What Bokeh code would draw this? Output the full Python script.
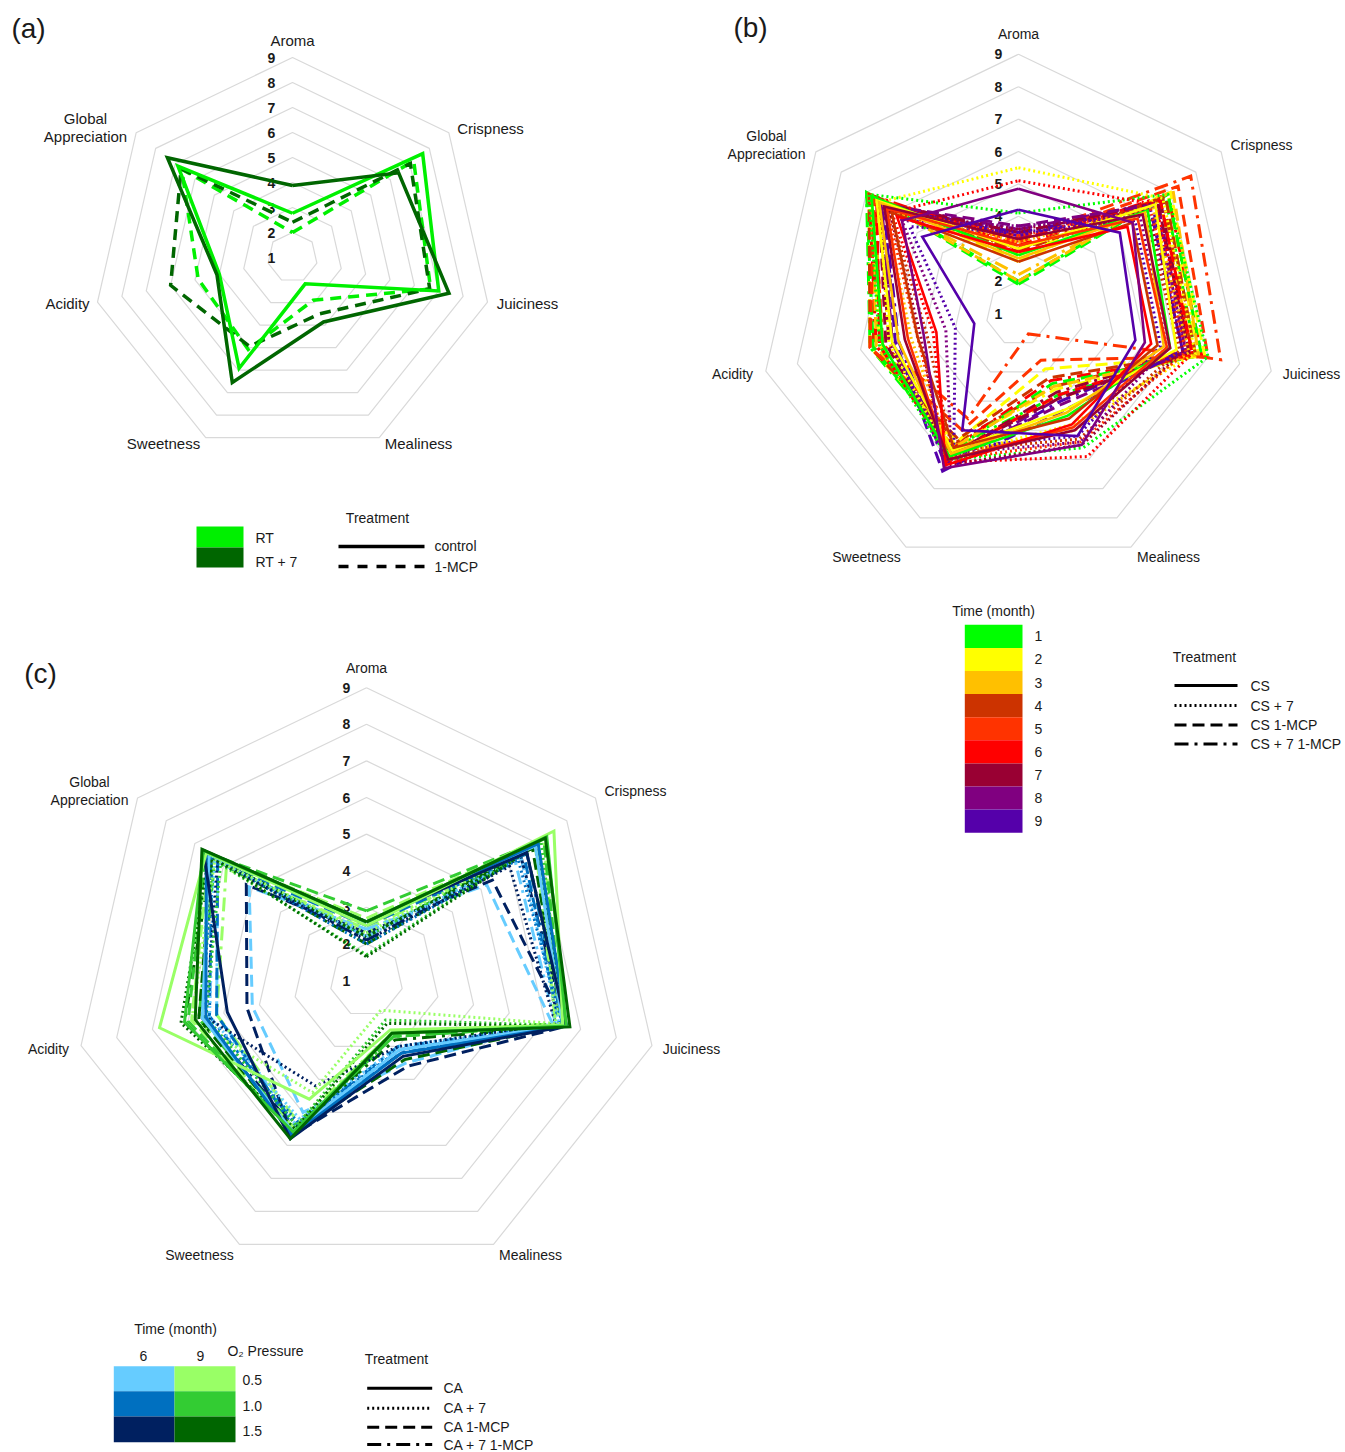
import numpy as np
from bokeh.plotting import figure
from bokeh.models import Range1d
from bokeh.embed import file_html
from bokeh.resources import INLINE
from bokeh.core.properties import value

# ---------------- DATA ----------------
attributes = ["Aroma", "Crispness", "Juiciness", "Mealiness", "Sweetness", "Acidity", "Global Appreciation"]
scale_ticks = [1, 2, 3, 4, 5, 6, 7, 8, 9]

# Panel (a): rows = RT, RT + 7
a_groups = ["RT", "RT + 7"]
a_control = [[2.77, 7.66, 7.0, 2.17, 5.92, 4.0, 6.86],
             [3.88, 6.43, 7.42, 3.86, 6.55, 4.1, 7.4]]
a_mcp = [[2.0, 7.2, 6.67, 2.9, 5.08, 4.87, 6.67],
         [2.41, 7.03, 6.63, 3.5, 4.95, 6.0, 6.7]]

# Panel (b): rows = month 1..9
b_months = ["1", "2", "3", "4", "5", "6", "7", "8", "9"]
b_cs = [[2.8, 6.1, 5.8, 4.5, 5.9, 5.3, 6.8],
        [3.0, 6.4, 6.0, 4.3, 5.7, 5.0, 6.6],
        [2.7, 6.0, 5.6, 4.4, 5.8, 4.8, 6.5],
        [2.6, 5.5, 5.4, 4.6, 5.6, 4.2, 6.0],
        [3.1, 5.7, 5.7, 4.9, 6.0, 4.5, 6.2],
        [2.9, 5.3, 5.2, 4.8, 6.2, 3.6, 5.8],
        [3.3, 5.9, 5.8, 5.0, 6.0, 4.6, 6.3],
        [4.85, 5.5, 5.0, 5.5, 6.3, 4.0, 5.6],
        [4.2, 5.0, 4.7, 5.2, 5.0, 2.4, 4.8]]
b_cs7 = [[4.1, 6.9, 7.0, 5.6, 6.0, 5.4, 6.9],
         [5.5, 6.7, 6.6, 4.8, 5.9, 5.1, 6.5],
         [3.2, 6.3, 6.4, 5.0, 5.8, 4.4, 6.3],
         [3.0, 6.0, 6.1, 5.3, 5.7, 3.9, 6.1],
         [3.4, 6.2, 6.3, 5.4, 6.0, 4.2, 6.2],
         [5.1, 6.4, 6.5, 5.9, 6.1, 3.7, 6.0],
         [3.6, 6.1, 6.2, 5.5, 6.2, 4.1, 6.1],
         [3.7, 5.8, 5.7, 5.4, 5.8, 3.3, 5.6],
         [3.5, 5.6, 5.5, 5.2, 5.6, 3.0, 5.3]]
b_cs_mcp = [[1.9, 6.9, 6.8, 3.4, 5.7, 5.6, 7.0],
            [2.6, 7.0, 6.9, 2.9, 5.4, 5.7, 6.9],
            [2.0, 7.1, 6.7, 3.5, 5.6, 5.5, 6.8],
            [2.9, 6.8, 6.6, 3.2, 5.3, 5.7, 6.9],
            [3.2, 7.3, 7.0, 2.6, 5.0, 5.7, 6.7],
            [3.3, 6.6, 6.5, 3.8, 5.9, 5.4, 6.6],
            [3.5, 6.5, 6.4, 3.9, 5.8, 5.2, 6.5],
            [3.7, 6.4, 6.3, 4.1, 6.0, 5.0, 6.4],
            [3.4, 6.2, 6.2, 4.3, 6.4, 4.9, 6.3]]
b_cs7_mcp = [[2.0, 6.8, 6.6, 3.8, 5.6, 5.7, 7.0],
             [2.8, 6.9, 6.7, 3.6, 5.5, 5.4, 6.8],
             [2.2, 6.6, 6.5, 3.9, 5.7, 5.3, 6.7],
             [3.0, 6.7, 6.5, 3.5, 5.4, 5.6, 6.6],
             [3.3, 7.8, 7.4, 1.7, 4.6, 5.3, 6.7],
             [3.1, 6.9, 6.8, 3.3, 5.6, 5.5, 6.9],
             [3.4, 6.6, 6.4, 3.7, 5.9, 5.1, 6.5],
             [3.6, 6.5, 6.3, 3.9, 6.1, 5.0, 6.4],
             [3.5, 6.3, 6.2, 4.0, 6.2, 4.8, 6.3]]

# Panel (c): rows = 6 months O2 0.5, 1.0, 1.5 ; 9 months O2 0.5, 1.0, 1.5
c_groups = ["6 / 0.5", "6 / 1.0", "6 / 1.5", "9 / 0.5", "9 / 1.0", "9 / 1.5"]
c_ca = [[2.6, 6.9, 6.5, 3.1, 5.6, 5.6, 6.5],
        [2.6, 7.0, 6.6, 3.2, 5.7, 5.5, 6.6],
        [2.6, 6.6, 6.6, 3.3, 5.8, 4.9, 6.7],
        [2.5, 7.55, 6.5, 2.5, 4.6, 6.8, 6.6],
        [2.6, 7.3, 6.6, 2.6, 5.6, 6.1, 6.7],
        [2.6, 7.25, 6.7, 2.6, 5.8, 5.8, 6.75]]
c_ca7 = [[2.2, 6.4, 6.4, 3.0, 5.2, 5.4, 6.3],
         [2.0, 6.3, 6.5, 3.1, 5.3, 5.6, 6.4],
         [2.1, 6.0, 6.3, 3.0, 4.2, 5.5, 6.2],
         [2.3, 7.0, 6.3, 1.9, 4.4, 5.9, 6.3],
         [1.7, 7.1, 6.5, 2.2, 5.4, 5.5, 6.1],
         [1.65, 6.9, 6.6, 2.3, 5.5, 6.2, 6.5]]
c_ca_mcp = [[2.4, 5.2, 6.2, 3.5, 5.0, 4.2, 5.1],
            [2.5, 6.5, 6.4, 3.2, 5.5, 5.2, 6.2],
            [2.3, 5.4, 6.6, 3.6, 5.7, 4.35, 5.2],
            [2.7, 7.2, 6.4, 2.6, 5.5, 5.9, 6.5],
            [2.9, 7.2, 6.5, 2.7, 5.6, 6.0, 6.6],
            [2.2, 6.8, 6.5, 3.4, 5.6, 5.7, 6.4]]
c_ca7_mcp = [[2.3, 6.2, 6.3, 3.1, 5.4, 5.2, 6.2],
             [2.2, 6.6, 6.5, 3.0, 5.4, 5.4, 6.4],
             [2.1, 6.4, 6.6, 3.2, 5.5, 5.6, 6.5],
             [2.4, 6.9, 6.3, 2.6, 5.3, 5.2, 5.9],
             [2.2, 7.0, 6.5, 2.7, 5.5, 5.7, 6.3],
             [2.0, 6.6, 6.6, 2.8, 5.6, 6.1, 6.4]]

# ---------------- STYLE ----------------
a_colors = ["#00F000", "#006600"]
b_colors = ["#00FF00", "#FFFF00", "#FFC000", "#CC3300", "#FF3300", "#FF0000", "#990033", "#800080", "#5500AA"]
c_colors = ["#66CCFF", "#0070C0", "#002060", "#99FF66", "#33CC33", "#006600"]
FONT = value("Liberation Sans")
TXT = "#1a1a1a"
RING = "#D9D9D9"

p = figure(width=1345, height=1452, x_range=Range1d(0, 1345), y_range=Range1d(1452, 0),
           output_backend="svg", toolbar_location=None, min_border=0)
p.axis.visible = False
p.grid.visible = False
p.outline_line_color = None
p.background_fill_color = "white"


def radar_xy(vals, cx, cy, unit):
    xs, ys = [], []
    n = len(vals)
    for k in range(n + 1):
        i = k % n
        th = np.pi / 2 - 2 * np.pi * i / n
        r = (vals[i] - scale_ticks[0]) * unit
        xs.append(cx + r * np.cos(th))
        ys.append(cy - r * np.sin(th))
    return xs, ys


def text(x, y, s, size, bold=False, align="center", color=TXT):
    p.text(x=[x], y=[y], text=[s], text_font=FONT, text_font_size=f"{size}px",
           text_align=align, text_baseline="middle", text_color=color,
           text_font_style="bold" if bold else "normal")


def panel(cx, cy, unit, label_pos, fsize, tick_dx):
    n = len(attributes)
    for t in scale_ticks[1:]:
        xs, ys = radar_xy([t] * n, cx, cy, unit)
        p.line(xs, ys, line_color=RING, line_width=1.2)
    for t in scale_ticks:
        text(cx + tick_dx, cy - (t - scale_ticks[0]) * unit, str(t), 14, bold=True)
    for name, (lx, ly) in zip(attributes, label_pos):
        if name == "Global Appreciation":
            text(lx, ly - 9, "Global", fsize)
            text(lx, ly + 9, "Appreciation", fsize)
        else:
            text(lx, ly, name, fsize)


def series(rows, colors, cx, cy, unit, dash, lw):
    for vals, col in zip(rows, colors):
        xs, ys = radar_xy(vals, cx, cy, unit)
        p.line(xs, ys, line_color=col, line_width=lw, line_dash=dash, line_join="miter")


# ---------- Panel (a) ----------
A = (292, 257, 25.0)
panel(*A, [(292, 40), (490, 128), (527, 303), (418, 443), (163, 443), (67, 303), (85, 127)], 15, -21)
series(a_mcp, a_colors, *A, "11 7", 3.5)
series(a_control, a_colors, *A, "solid", 3.5)
text(28, 28, "(a)", 28)

# legend (a)
p.quad(left=[196, 196], right=[243, 243], top=[526, 547], bottom=[547, 567], fill_color=a_colors, line_color=None)
text(255, 537, "RT", 14, align="left")
text(255, 561, "RT + 7", 14, align="left")
text(377, 517, "Treatment", 14)
p.line([338, 424], [546, 546], line_color="black", line_width=3.5)
p.line([338, 424], [566, 566], line_color="black", line_width=3.5, line_dash="10 9")
text(434, 545, "control", 14, align="left")
text(434, 566, "1-MCP", 14, align="left")

# ---------- Panel (b) ----------
B = (1018, 313, 32.4)
panel(*B, [(1018, 33), (1261, 144), (1311, 373), (1168, 556), (866, 556), (732, 373), (766, 144)], 14, -20)
series(b_cs7_mcp, b_colors, *B, "14 6 3 6", 3)
series(b_cs_mcp, b_colors, *B, "12 6", 3)
series(b_cs7, b_colors, *B, "2 3", 3)
series(b_cs, b_colors, *B, "solid", 2.6)
text(750, 27, "(b)", 28)

# legend (b)
text(993, 610, "Time (month)", 14)
top0, h = 624.3, 23.1
for i, (m, col) in enumerate(zip(b_months, b_colors)):
    p.quad(left=[964.3], right=[1022], top=[top0 + i * h], bottom=[top0 + (i + 1) * h], fill_color=col, line_color=None)
    text(1038, top0 + (i + 0.5) * h, m, 14)
text(1204, 656, "Treatment", 14)
b_labels = ["CS", "CS + 7", "CS 1-MCP", "CS + 7 1-MCP"]
b_dash = ["solid", "2 3", "12 6", "14 6 3 6"]
for i, (lab, d) in enumerate(zip(b_labels, b_dash)):
    yy = [685, 705, 724.5, 743.5][i]
    p.line([1174, 1237], [yy, yy], line_color="black", line_width=3, line_dash=d)
    text(1250, yy, lab, 14, align="left")

# ---------- Panel (c) ----------
C = (366, 980, 36.6)
panel(*C, [(366, 667), (635, 790), (691, 1048), (530, 1254), (199, 1254), (48, 1048), (89, 790)], 14, -20)
series(c_ca7_mcp, c_colors, *C, "14 6 3 6", 3)
series(c_ca_mcp, c_colors, *C, "12 6", 3)
series(c_ca7, c_colors, *C, "2 3", 3)
series(c_ca, c_colors, *C, "solid", 3)
text(40, 673, "(c)", 28)

# legend (c)
text(175, 1328, "Time (month)", 14)
text(143, 1355, "6", 14)
text(200, 1355, "9", 14)
text(265, 1350, "O\u2082 Pressure", 14)
rows_y = [1365.7, 1390.7, 1416.0, 1441.7]
for j in range(3):
    p.quad(left=[113.3], right=[174], top=[rows_y[j]], bottom=[rows_y[j + 1]], fill_color=c_colors[j], line_color=None)
    p.quad(left=[174], right=[235], top=[rows_y[j]], bottom=[rows_y[j + 1]], fill_color=c_colors[j + 3], line_color=None)
for lab, yy in zip(["0.5", "1.0", "1.5"], [1379, 1405, 1430.5]):
    text(242, yy, lab, 14, align="left")
text(396, 1358, "Treatment", 14)
c_labels = ["CA", "CA + 7", "CA 1-MCP", "CA + 7 1-MCP"]
for i, (lab, d) in enumerate(zip(c_labels, b_dash)):
    yy = [1387.7, 1407.7, 1426.7, 1444.0][i]
    p.line([366.7, 431.7], [yy, yy], line_color="black", line_width=3, line_dash=d)
    text(443, yy, lab, 14, align="left")

open("out.html", "w").write(file_html(p, INLINE))
